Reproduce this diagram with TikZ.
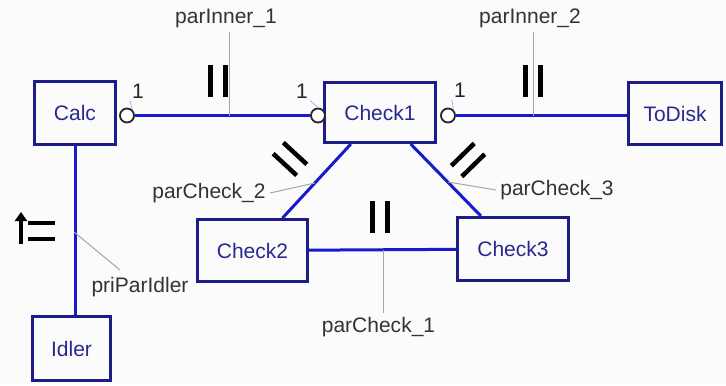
\documentclass[tikz,border=0pt]{standalone}
\usepackage{fontspec}
\setmainfont{Liberation Sans}
\usetikzlibrary{arrows.meta}
\definecolor{boxblue}{RGB}{28,28,135}
\definecolor{txtblue}{RGB}{40,40,145}
\definecolor{wireblue}{RGB}{25,25,205}
\definecolor{leadgray}{RGB}{165,165,165}
\definecolor{bggray}{RGB}{251,251,251}

\begin{document}
\begin{tikzpicture}
[x=0.5pt, y=-0.5pt, font=\fontsize{10.5}{12}\selectfont,
comp/.style={rectangle, draw=boxblue, line width=1.5pt, text=txtblue, inner sep=0pt, minimum height=31pt},
port/.style={circle, draw=black!85, fill=white, line width=0.9pt, inner sep=0pt, minimum size=7pt},
wire/.style={draw=wireblue, line width=1.5pt},
lead/.style={draw=leadgray, line width=0.5pt},
tick/.style={draw=wireblue!35, line width=0.4pt},
lbl/.style={text=black!80, inner sep=2pt},
card/.style={text=black!85, inner sep=1pt},
parmark/.pic={\draw[line width=2.25pt, black] (-3.75pt,-8pt) -- (-3.75pt,8pt) (3.75pt,-8pt) -- (3.75pt,8pt);}
]

\fill[bggray] (0,0) rectangle (726,385);
\useasboundingbox (0,0) rectangle (726,385);

% components
\node[comp, minimum width=40.5pt] (calc) at (75,113) {Calc};
\node[comp, minimum width=55.5pt, minimum height=30pt] (check1) at (380,112.5) {Check1};
\node[comp, minimum width=46.5pt] (todisk) at (675,113.5) {ToDisk};
\node[comp, minimum width=55pt] (check2) at (252.5,250.5) {Check2};
\node[comp, minimum width=55.5pt, minimum height=31.5pt] (check3) at (513,249) {Check3};
\node[comp, minimum width=39pt, minimum height=32pt] (idler) at (71.5,348.5) {Idler};

% ports
\node[port] (p1) at (127,115.5) {};
\node[port] (p2) at (318,115.5) {};
\node[port] (p3) at (448,115.5) {};

\node[card] (n1) at (138,91) {1};
\node[card] (n2) at (302,91) {1};
\node[card] (n3) at (460,90) {1};
\draw[tick] (p1.north east) -- (n1.south west);
\draw[tick] (p2.north) -- (n2.south east);
\draw[tick] (p3.north east) -- (n3.south west);

% connections
\draw[wire] (p1.east) -- (p2.west);
\draw[wire] (p3.east) -- (p3.east -| todisk.west);
\draw[wire] (calc.south) -- (calc.south |- idler.north);
\draw[wire] (check1) -- (check2);
\draw[wire] (check1) -- (check3);
\draw[wire] (check2) -- (check3);

% parallel marks
\pic at (218,81) {parmark};
\pic at (533,81) {parmark};
\pic at (380,217) {parmark};
\pic[rotate=47.3] at (290,159) {parmark};
\pic[rotate=-45.7] at (468,160) {parmark};

% priority mark
\draw[line width=2.25pt, -{Triangle[length=4.5pt, width=6pt]}] (21,244) -- (21,212);
\draw[line width=2.25pt] (28,223) -- (55,223) (28,239) -- (55,239);

% labels
\node[lbl] (pi1) at (226,18) {parInner\_1};
\node[lbl] (pi2) at (530,18) {parInner\_2};
\node[lbl] (pc1) at (378.5,327) {parCheck\_1};
\node[lbl] (pc2) at (209,193) {parCheck\_2};
\node[lbl] (pc3) at (557,190) {parCheck\_3};
\node[lbl] (pp) at (140,287) {priParIdler};

\coordinate (lp1) at (229,115.5);
\coordinate (lp2) at (533,115.5);
\coordinate (lp3) at (383,250);
\coordinate (lp4) at (315,183);
\coordinate (lp5) at (448,182);
\coordinate (lp6) at (74,232);
\coordinate (le6) at (120,270);

\draw[lead] (pi1.south -| lp1) -- (lp1);
\draw[lead] (pi2.south -| lp2) -- (lp2);
\draw[lead] (lp3) -- (pc1.north -| lp3);
\draw[lead] (pc2.east) -- (lp4);
\draw[lead] (lp5) -- (pc3.west);
\draw[lead] (lp6) -- (le6);
\end{tikzpicture}
\end{document}
